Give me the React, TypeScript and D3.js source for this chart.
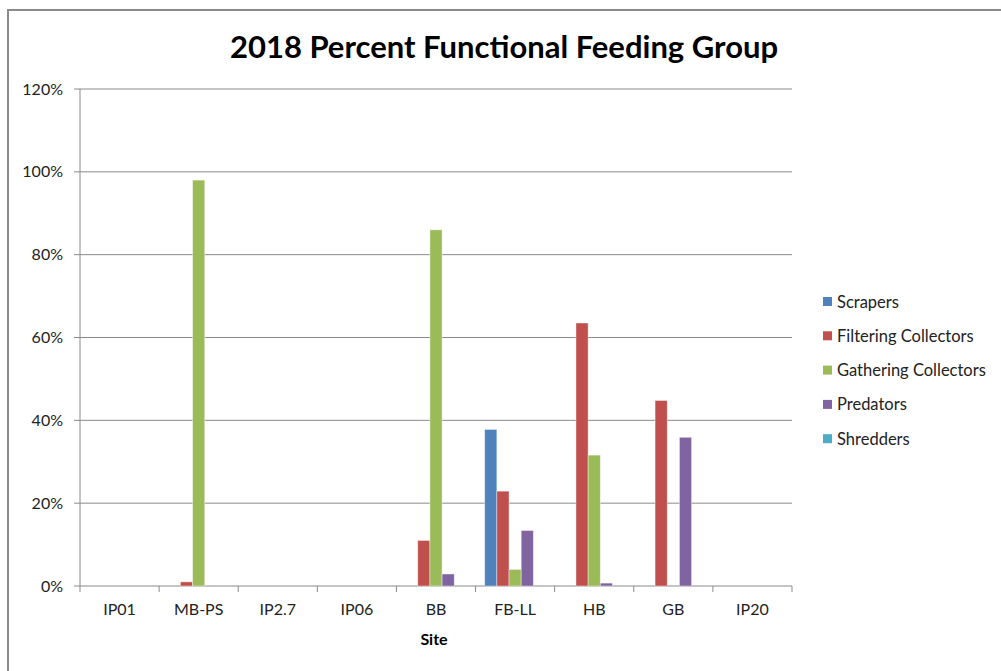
import React from "react";
import * as d3 from "d3";

const sites = ["IP01", "MB-PS", "IP2.7", "IP06", "BB", "FB-LL", "HB", "GB", "IP20"];
const seriesNames = ["Scrapers", "Filtering Collectors", "Gathering Collectors", "Predators", "Shredders"];
const seriesColors = ["#4F81BD", "#C0504D", "#9BBB59", "#8064A2", "#4BACC6"];
const scrapers = [0, 0, 0, 0, 0, 37.8, 0, 0, 0];
const filtering = [0, 1.0, 0, 0, 11.0, 22.9, 63.5, 44.8, 0];
const gathering = [0, 98.0, 0, 0, 86.0, 4.0, 31.6, 0, 0];
const predators = [0, 0, 0, 0, 2.9, 13.4, 0.7, 35.9, 0];
const shredders = [0, 0, 0, 0, 0, 0, 0, 0, 0];
const yTicks = [0, 20, 40, 60, 80, 100, 120];

const seriesValues = [scrapers, filtering, gathering, predators, shredders];

export default function App() {
  const W = 1001, H = 671;
  const left = 80, right = 792, top = 89, bottom = 586;
  const font = "Lato, 'Open Sans', sans-serif";
  const x0 = d3.scaleBand<string>().domain(sites).range([left, right]).paddingInner(0).paddingOuter(0);
  const bw = x0.bandwidth();
  const barW = bw / 6.5;
  const x1 = d3.scaleBand<string>().domain(seriesNames).range([barW * 0.75, barW * 5.75]).padding(0);
  const y = d3.scaleLinear().domain([0, 120]).range([bottom, top]);

  return (
    <svg width={W} height={H} style={{ position: "absolute", left: 0, top: 0, background: "#fff" }} fontFamily={font}>
      <rect x={8} y={10} width={W + 10} height={H + 10} fill="#fff" stroke="#8a8a8a" strokeWidth={2} />
      <text x={504} y={58} textAnchor="middle" fontSize={31} fontWeight="bold" fill="#000">
        2018 Percent Functional Feeding Group
      </text>
      {yTicks.map((t) => (
        <g key={t}>
          <line x1={left - 6} x2={right} y1={y(t)} y2={y(t)} stroke="#8a8a8a" strokeWidth={1} />
          <text x={63} y={y(t) + 5.5} textAnchor="end" fontSize={16} fill="#222">{t}%</text>
        </g>
      ))}
      <line x1={left} x2={left} y1={top} y2={bottom} stroke="#8a8a8a" strokeWidth={1} />
      {sites.map((s, i) => (
        <g key={s}>
          <line x1={x0(s)!} x2={x0(s)!} y1={bottom} y2={bottom + 6} stroke="#8a8a8a" />
          <text x={x0(s)! + bw / 2} y={bottom + 29} textAnchor="middle" fontSize={16} fill="#222">{s}</text>
        </g>
      ))}
      <line x1={right} x2={right} y1={bottom} y2={bottom + 6} stroke="#8a8a8a" />
      {seriesValues.map((vals, si) =>
        vals.map((v, i) =>
          v > 0 ? (
            <rect
              key={`${si}-${i}`}
              x={x0(sites[i])! + x1(seriesNames[si])!}
              y={y(v)}
              width={barW}
              height={y(0) - y(v)}
              fill={seriesColors[si]}
              stroke="#ffffff"
              strokeOpacity={0.5}
              strokeWidth={0.8}
            />
          ) : null
        )
      )}
      <text x={434} y={645} textAnchor="middle" fontSize={16} fontWeight="bold" fill="#000">Site</text>
      {seriesNames.map((n, i) => (
        <g key={n}>
          <rect x={823} y={297 + i * 34.3} width={9} height={9} fill={seriesColors[i]} />
          <text x={837} y={307.5 + i * 34.3} fontSize={16.5} fill="#222">{n}</text>
        </g>
      ))}
    </svg>
  );
}
